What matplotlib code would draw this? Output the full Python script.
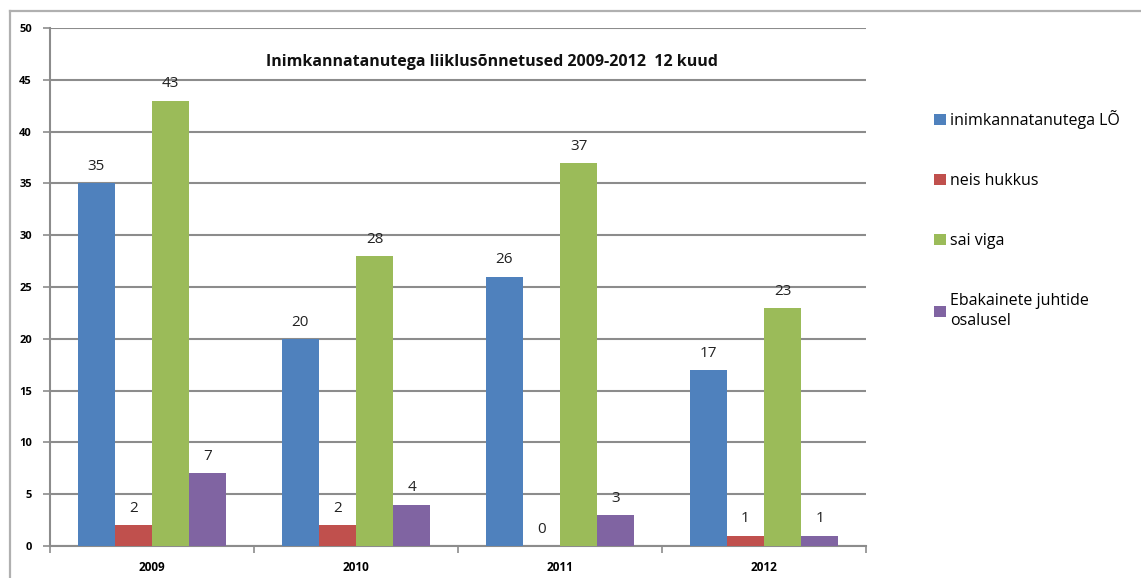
import matplotlib.pyplot as plt
import numpy as np
from matplotlib.lines import Line2D

plt.rcParams['font.family'] = ['Open Sans', 'DejaVu Sans']

# --- andmed ---
years = ['2009', '2010', '2011', '2012']
series_names = ['inimkannatanutega LÕ', 'neis hukkus', 'sai viga', 'Ebakainete juhtide\nosalusel']
lo_total = [35, 20, 26, 17]
hukkus = [2, 2, 0, 1]
sai_viga = [43, 28, 37, 23]
ebakained = [7, 4, 3, 1]
colors = ['#4F81BD', '#C0504D', '#9BBB59', '#8064A2']

W, H = 1141, 578
fig = plt.figure(figsize=(W / 100, H / 100), dpi=100)
ax = fig.add_axes([50 / W, 1 - 546 / H, (866 - 50) / W, (546 - 28) / H])

# välimine raam (ainult üleval ja vasakul nähtav)
fig.add_artist(Line2D([10 / W, 10 / W], [0, 1 - 10.5 / H], transform=fig.transFigure, color='#b0b0b0', lw=1.6))
fig.add_artist(Line2D([10 / W, 1], [1 - 10.5 / H, 1 - 10.5 / H], transform=fig.transFigure, color='#b0b0b0', lw=1.6))

x = np.arange(len(years))
bw = 0.182
all_series = [lo_total, hukkus, sai_viga, ebakained]
for i, (vals, c, name) in enumerate(zip(all_series, colors, series_names)):
    pos = x + (i - 1.5) * bw
    bars = ax.bar(pos, vals, width=bw, color=c, label=name, zorder=3)
    for b, v in zip(bars, vals):
        ax.annotate(str(v), (b.get_x() + b.get_width() / 2, v), xytext=(0, 12), textcoords='offset points',
                    ha='center', va='center', fontsize=11, color='#222222')

ax.set_xlim(-0.5, 3.5)
ax.set_ylim(0, 50)
ax.set_yticks(range(0, 51, 5))
ax.yaxis.grid(True, color='#8c8c8c', lw=1.5, zorder=0)
ax.set_axisbelow(True)

ax.set_xticks(x)
ax.set_xticklabels(years)
ax.set_xticks(np.arange(-0.5, 4, 1), minor=True)
ax.tick_params(axis='x', which='major', length=0, pad=11, labelsize=8.5)
ax.tick_params(axis='x', which='minor', length=5, width=1.2, color='#8c8c8c', direction='out')
ax.tick_params(axis='y', length=5, width=1.2, color='#8c8c8c', labelsize=8, pad=8)
for lab in ax.get_xticklabels() + ax.get_yticklabels():
    lab.set_fontweight('bold')

for s in ['top', 'right']:
    ax.spines[s].set_visible(False)
for s in ['left', 'bottom']:
    ax.spines[s].set_color('#8c8c8c')
    ax.spines[s].set_linewidth(1.5)

ax.text(0.541, 0.935, 'Inimkannatanutega liiklusõnnetused 2009-2012  12 kuud', transform=ax.transAxes,
        ha='center', va='center', fontsize=11.5, fontweight='bold', color='#111111')

leg = fig.legend(loc='upper left', bbox_to_anchor=(920 / W, 1 - 96 / H), frameon=False, fontsize=11.5,
                 handlelength=0.7, handleheight=0.7, handletextpad=0.3, labelspacing=2.75)
for t in leg.get_texts():
    t.set_linespacing(1.3)

fig.savefig('out.png', dpi=100)
